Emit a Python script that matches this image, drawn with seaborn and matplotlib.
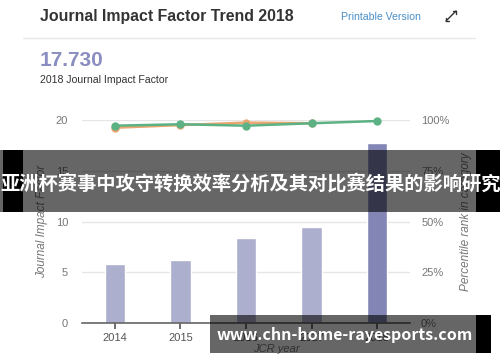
import numpy as np
import pandas as pd
import matplotlib
matplotlib.use('Agg')
import matplotlib.pyplot as plt
import seaborn as sns
from matplotlib.patches import Rectangle
from matplotlib.lines import Line2D

# 데이터
years = ['2014', '2015', '2016', '2017', '2018']
jif = [5.8, 6.2, 8.4, 9.5, 17.73]
rank_green = [97.2, 97.9, 97.2, 98.4, 99.5]
rank_orange = [96.2, 97.5, 98.7, 98.4]
bar_colors = ['#a7abd2', '#a7abd2', '#a7abd2', '#a7abd2', '#7b7fbd']

sns.set_theme(style='white')
plt.rcParams['font.family'] = ['Liberation Sans', 'DejaVu Sans']

fig = plt.figure(figsize=(5, 3.62), dpi=100)
W, H = 500, 362
ax = fig.add_axes([82 / W, 1 - 323 / H, (410 - 82) / W, (323 - 120) / H])

df = pd.DataFrame({'year': years, 'jif': jif})
sns.barplot(data=df, x='year', y='jif', hue='year', palette=bar_colors,
            legend=False, width=0.31, ax=ax, zorder=2)
ax.set_xlim(-0.5, 4.5)
ax.set_ylim(0, 20)
ax.set_yticks([0, 5, 10, 15, 20])
ax.grid(axis='y', color='#e6e6e6', lw=1, zorder=0)
for s in ['top', 'right', 'left']:
    ax.spines[s].set_visible(False)
ax.spines['bottom'].set_color('#666666')
ax.spines['bottom'].set_linewidth(1.2)
ax.tick_params(axis='x', colors='#555555', length=4, width=1.2, labelsize=8, pad=3, bottom=True)
ax.tick_params(axis='y', colors='#777777', length=0, labelsize=8, pad=10)
ax.set_xlabel('JCR year', fontsize=8, style='italic', color='#777777')
ax.xaxis.set_label_coords((276 - 82) / (410 - 82), -0.105)
ax.set_ylabel('Journal Impact Factor', fontsize=8.5, style='italic', color='#777777')
ax.yaxis.set_label_coords(-(82 - 48) / (410 - 82), 0.5)

ax2 = ax.twinx()
pos = np.arange(len(years))
sns.lineplot(x=pos[:len(rank_orange)], y=rank_orange, color='#e9a66f', lw=1.8,
             marker='o', markersize=6, markeredgewidth=0, ax=ax2, zorder=3)
sns.lineplot(x=pos, y=rank_green, color='#5cb185', lw=1.8,
             marker='o', markersize=6, markeredgewidth=0, ax=ax2, zorder=4)
for line in ax2.lines:
    line.set_clip_on(False)
ax2.set_ylim(0, 100)
ax2.set_yticks([0, 25, 50, 75, 100])
ax2.set_yticklabels(['0%', '25%', '50%', '75%', '100%'])
ax2.tick_params(axis='y', colors='#777777', length=0, labelsize=8, pad=8)
for s in ['top', 'right', 'left', 'bottom']:
    ax2.spines[s].set_visible(False)
ax2.set_ylabel('Percentile rank in category', fontsize=8.5, style='italic', color='#777777')
ax2.yaxis.set_label_coords(1 + (460 - 410) / (410 - 82), 0.5)

# 헤더
fig.text(40 / W, 1 - 16 / H, 'Journal Impact Factor Trend 2018', fontsize=11.4,
         fontweight='bold', color='#333333', va='center')
fig.text(341 / W, 1 - 17 / H, 'Printable Version', fontsize=7.6, color='#4a8fc9', va='center')
fig.add_artist(Line2D([446 / W, 456 / W], [1 - 21 / H, 1 - 11 / H], color='#333333', lw=1))
fig.add_artist(Line2D([446 / W, 449 / W], [1 - 21 / H, 1 - 21 / H], color='#333333', lw=1))
fig.add_artist(Line2D([446 / W, 446 / W], [1 - 21 / H, 1 - 18 / H], color='#333333', lw=1))
fig.add_artist(Line2D([453 / W, 456 / W], [1 - 11 / H, 1 - 11 / H], color='#333333', lw=1))
fig.add_artist(Line2D([456 / W, 456 / W], [1 - 11 / H, 1 - 14 / H], color='#333333', lw=1))
fig.add_artist(Line2D([23 / W, 475 / W], [1 - 38 / H, 1 - 38 / H], color='#e8e8e8', lw=1))
fig.text(40 / W, 1 - 61 / H, '17.730', fontsize=15, fontweight='bold', color='#8a8dbf', va='center')
fig.text(40 / W, 1 - 80 / H, '2018 Journal Impact Factor', fontsize=7.6, color='#333333', va='center')

# 오버레이 배너
fig.add_artist(Rectangle((0, 1 - 212 / H), 1, 62 / H, transform=fig.transFigure,
                         color='black', alpha=0.6, lw=0, zorder=10))
fig.add_artist(Rectangle((3 / W, 1 - 212 / H), 20 / W, 62 / H, transform=fig.transFigure,
                         color='black', lw=0, zorder=10))
fig.add_artist(Rectangle((476 / W, 1 - 212 / H), 24 / W, 62 / H, transform=fig.transFigure,
                         color='black', lw=0, zorder=10))
fig.text(250.5 / W, 1 - 183 / H, '亚洲杯赛事中攻守转换效率分析及其对比赛结果的影响研究',
         family=['Noto Sans CJK SC', 'DejaVu Sans'], fontsize=13.9, fontweight='bold',
         color='white', ha='center', va='center', zorder=11)

fig.add_artist(Rectangle((210 / W, 1 - 353 / H), 266 / W, 38 / H, transform=fig.transFigure,
                         color='black', alpha=0.6, lw=0, zorder=10))
fig.add_artist(Rectangle((476 / W, 1 - 353 / H), 15 / W, 38 / H, transform=fig.transFigure,
                         color='black', lw=0, zorder=10))
fig.text(345 / W, 1 - 335 / H, 'www.chn-home-rayesports.com',
         family=['Noto Sans CJK SC', 'DejaVu Sans'], fontsize=11.5, fontweight='bold',
         color='white', ha='center', va='center', zorder=11)

fig.savefig('out.png', dpi=100)
